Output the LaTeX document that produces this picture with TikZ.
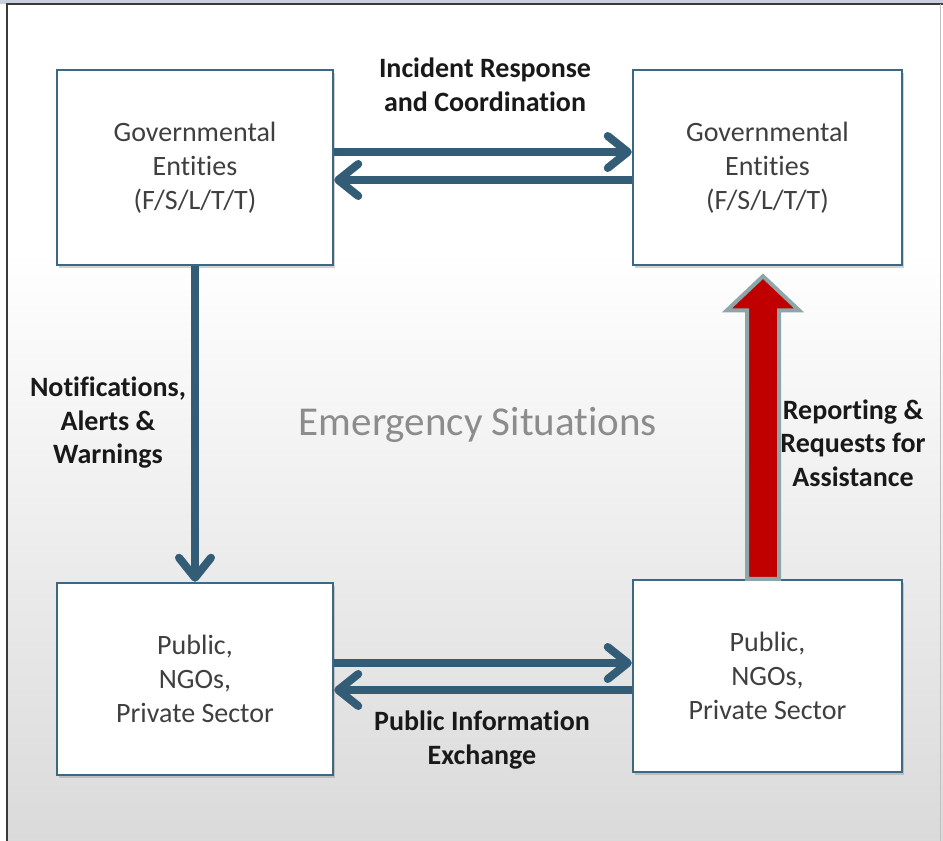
\documentclass[tikz,border=0pt]{standalone}
\usepackage{fontspec}
\setmainfont{Carlito}[Ligatures=NoCommon]
\usetikzlibrary{arrows.meta,shadows,calc}
\definecolor{boxblue}{HTML}{3D6883}
\definecolor{arrowblue}{HTML}{335C77}
\definecolor{textgrey}{HTML}{3F3F3F}
\definecolor{emgrey}{HTML}{8C8C8C}
\definecolor{bgbot}{HTML}{DADADA}
\definecolor{arrowred}{HTML}{C00000}
\definecolor{redline}{HTML}{8DA6A9}
\definecolor{topstrip}{HTML}{CBD0DE}
\definecolor{framecol}{HTML}{3A3A3A}
\begin{document}
\begin{tikzpicture}[x=1pt,y=-1pt,
  ent/.style={draw=boxblue, line width=2.5pt, fill=white, minimum width=276pt,
    minimum height=195pt, inner sep=0pt, align=center,
    font=\fontsize{28}{34}\selectfont, text=textgrey,
    drop shadow={opacity=0.35, shadow xshift=2pt, shadow yshift=-3pt}},
  flow/.style={draw=arrowblue, line width=8pt,
    -{Straight Barb[length=20pt,width=32pt,round]}},
  lab/.style={font=\bfseries\fontsize{28}{33.5}\selectfont, align=center, text=black!90}]
\useasboundingbox (0,0) rectangle (943,841);
% background
\fill[white] (0,0) rectangle (943,841);
\fill[topstrip] (0,0) rectangle (943,4);
\fill[white] (7,4) rectangle (943,250);
\shade[top color=white, bottom color=bgbot] (7,250) rectangle (943,841);
\draw[framecol, line width=1.5pt] (7,841) -- (7,4) -- (943,4);
\draw[black!25, line width=0.8pt] (940,4) -- (940,841);
% boxes
\node[ent] (tl) at (195,167.5) {Governmental\\Entities\\(F/S/L/T/T)};
\node[ent, minimum width=269pt] (tr) at (767.5,167.5) {Governmental\\Entities\\(F/S/L/T/T)};
\node[ent, minimum height=192pt] (bl) at (195,679) {Public,\\NGOs,\\Private Sector};
\node[ent, minimum width=269pt, minimum height=192pt] (br) at (767.5,676) {Public,\\NGOs,\\Private Sector};
% labels
\node[lab] (irc) at (485,85) {Incident Response\\and Coordination};
\node[lab] (naw) at (108,423) {Notifications,\\Alerts \&\\Warnings};
\node[lab] (rra) at (853,443) {Reporting \&\\Requests for\\Assistance};
\node[lab] (pie) at (482,740) {Public Information\\Exchange};
\node[font=\fontsize{41}{48}\selectfont, text=emgrey] (es) at (478,425) {Emergency Situations};
% connectors
\coordinate (ya) at (0,152);
\coordinate (yb) at (0,180);
\coordinate (yc) at (0,663);
\coordinate (yd) at (0,690);
\draw[flow] (tl.east |- ya) -- (tr.west |- ya);
\draw[flow] (tr.west |- yb) -- (tl.east |- yb);
\draw[flow] (tl.south) -- (bl.north);
\draw[flow] (bl.east |- yc) -- (br.west |- yc);
\draw[flow] (br.west |- yd) -- (bl.east |- yd);
% red block arrow
\coordinate (rc) at ($(tr.south)+(-4.5,0)$);
\coordinate (rb) at ($(br.north)+(-4.5,0)$);
\draw[fill=arrowred, draw=redline, line width=4pt, line join=miter]
  ($(rb)+(-16,0)$) -- ($(rc)+(-16,44)$) -- ($(rc)+(-36,44)$) -- ($(rc)+(0,10)$)
  -- ($(rc)+(36,44)$) -- ($(rc)+(16,44)$) -- ($(rb)+(16,0)$) -- cycle;
\end{tikzpicture}
\end{document}
